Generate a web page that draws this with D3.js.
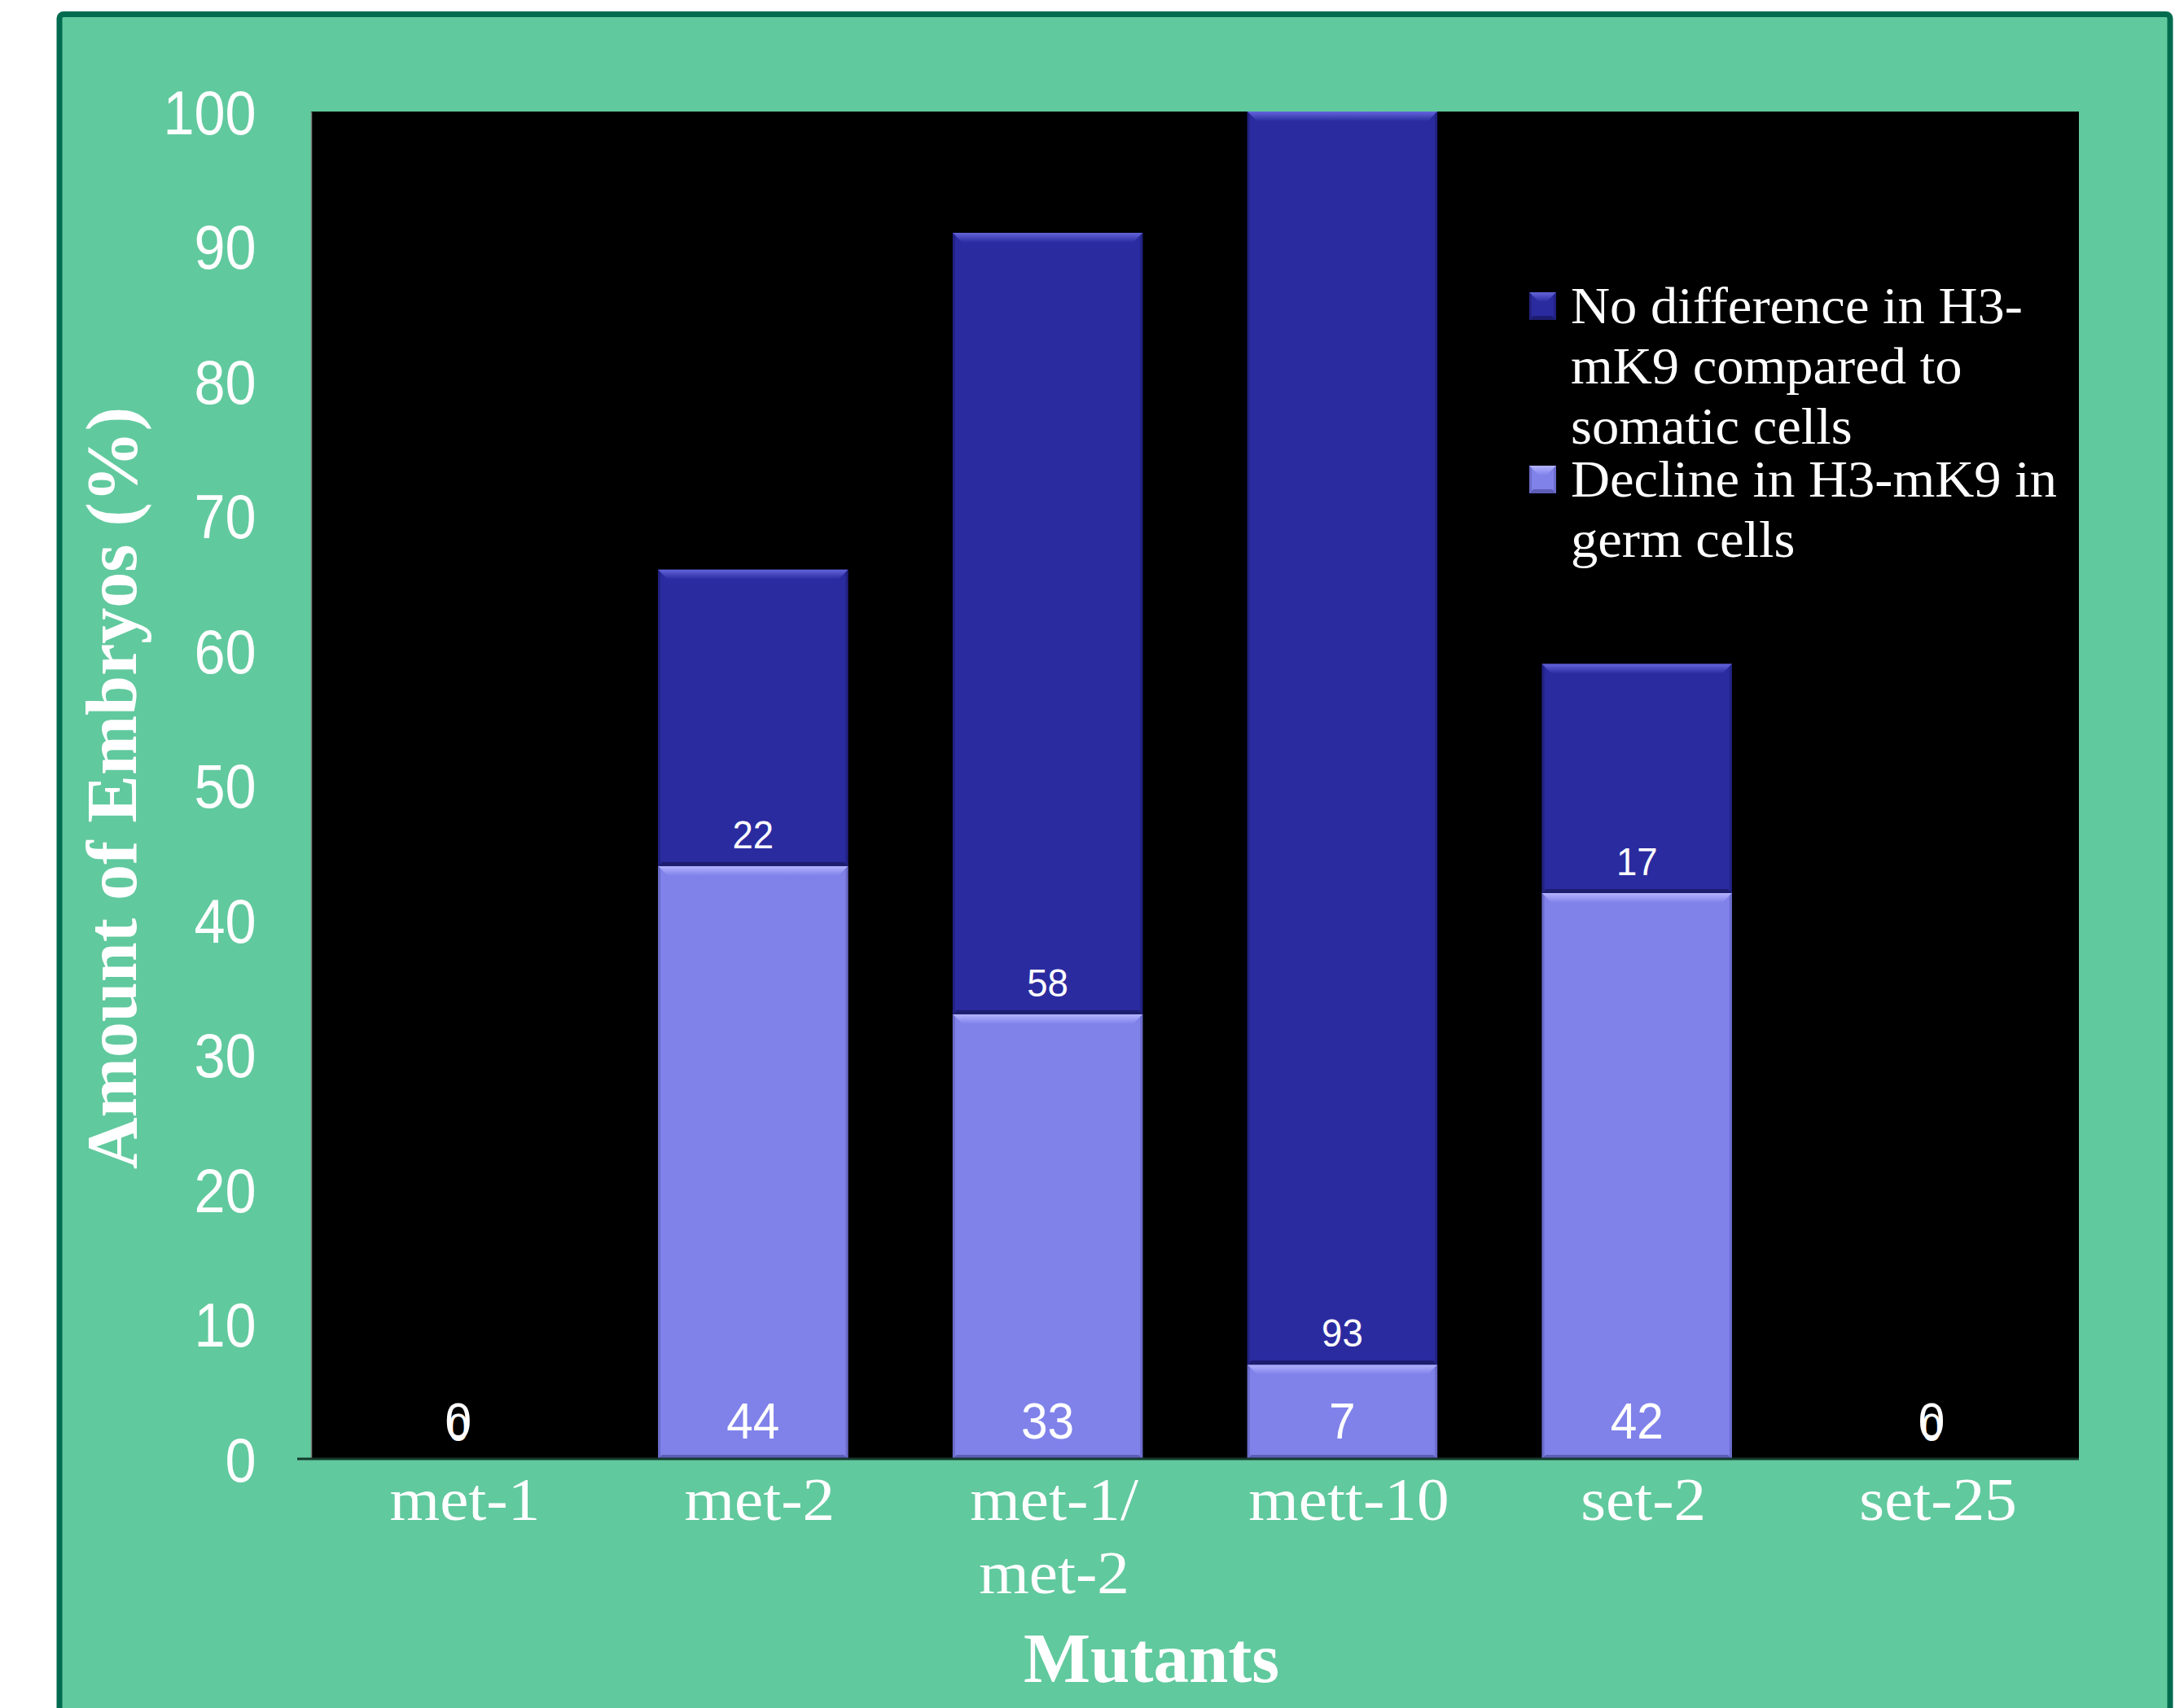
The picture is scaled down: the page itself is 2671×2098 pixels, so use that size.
<!DOCTYPE html>
<html>
<head>
<meta charset="utf-8">
<script src="https://cdn.jsdelivr.net/npm/d3@7"></script>
<style>
  body { margin: 0; background: #ffffff; }
  svg { display: block; }
</style>
</head>
<body>
<div id="chart"></div>
<script>
const categories = ["met-1", "met-2", "met-1/met-2", "mett-10", "set-2", "set-25"];
const declineValues = [0, 44, 33, 7, 42, 0];
const noDiffValues = [0, 22, 58, 93, 17, 0];
const yTickValues = [0, 10, 20, 30, 40, 50, 60, 70, 80, 90, 100];
const seriesKeys = ["decline", "noDiff"];
const legendKeys = ["noDiff", "decline"];
const legendLines = [
    ["No difference in H3-", "mK9 compared to", "somatic cells"],
    ["Decline in H3-mK9 in", "germ cells"]
];
const axisTitleY = "Amount of Embryos (%)";
const axisTitleX = "Mutants";

const colors = { noDiff: "#2b2ba0", decline: "#8082ea" };
const bevelTop = { noDiff: "#6464dc", decline: "#b4b4ff" };
const bevelBottom = { noDiff: "#1d1d70", decline: "#5d5db8" };

const W = 2671, H = 2098;
const plot = { left: 382, right: 2553, top: 137, bottom: 1792 };

let svg = d3.select("#chart")
    .append("svg")
    .attr("width", W)
    .attr("height", H);

// outer green frame
svg.append("rect")
    .attr("x", 73)
    .attr("y", 17.5)
    .attr("width", 2592)
    .attr("height", 2200)
    .attr("rx", 5)
    .attr("fill", "#61c99e")
    .attr("stroke", "#006b4f")
    .attr("stroke-width", 7);

svg.append("rect")
    .attr("x", plot.left)
    .attr("y", plot.top)
    .attr("width", plot.right - plot.left)
    .attr("height", plot.bottom - plot.top)
    .attr("fill", "#000000");

let x = d3.scaleBand()
    .domain(categories)
    .range([plot.left, plot.right])
    .paddingInner(0.355)
    .paddingOuter(0.1775);

let y = d3.scaleLinear()
    .domain([0, 100])
    .range([plot.bottom, plot.top]);

let table = categories.map(function(c, i) {
    return { cat: c, decline: declineValues[i], noDiff: noDiffValues[i] };
});

let stacked = d3.stack().keys(seriesKeys)(table);

function bevelSegment(g, x0, x1, y0, y1, key) {
    let h = y1 - y0;
    g.append("rect")
        .attr("x", x0).attr("y", y0)
        .attr("width", x1 - x0).attr("height", h)
        .attr("fill", colors[key]);
    if (h <= 0) return;
    let b = Math.min(12, h / 2);
    let s = Math.min(5, h / 4);
    g.append("polygon")
        .attr("points", [[x0, y0], [x1, y0], [x1 - b, y0 + b], [x0 + b, y0 + b]].join(" "))
        .attr("fill", "url(#top-" + key + ")");
    g.append("polygon")
        .attr("points", [[x0, y1], [x1, y1], [x1 - s, y1 - s], [x0 + s, y1 - s]].join(" "))
        .attr("fill", bevelBottom[key]);
    g.append("polygon")
        .attr("points", [[x0, y0], [x0 + 3, y0 + 3], [x0 + 3, y1 - 3], [x0, y1]].join(" "))
        .attr("fill", bevelBottom[key])
        .attr("opacity", 0.6);
    g.append("polygon")
        .attr("points", [[x1, y0], [x1 - 3, y0 + 3], [x1 - 3, y1 - 3], [x1, y1]].join(" "))
        .attr("fill", bevelBottom[key])
        .attr("opacity", 0.6);
}

let defs = svg.append("defs");
seriesKeys.forEach(function(k) {
    let grad = defs.append("linearGradient")
        .attr("id", "top-" + k)
        .attr("x1", 0).attr("y1", 0).attr("x2", 0).attr("y2", 1);
    grad.append("stop").attr("offset", "0%").attr("stop-color", bevelTop[k]);
    grad.append("stop").attr("offset", "100%").attr("stop-color", colors[k]);
});

let bars = svg.append("g").attr("class", "bars");
stacked.forEach(function(layer) {
    layer.forEach(function(d) {
        let x0 = x(d.data.cat), x1 = x0 + x.bandwidth();
        bevelSegment(bars, x0, x1, y(d[1]), y(d[0]), layer.key);
    });
});

// data labels (the zero labels overlap, as in the original)
let labels = svg.append("g")
    .attr("font-family", "'Liberation Sans', Arial, sans-serif")
    .attr("fill", "#ffffff")
    .attr("text-anchor", "middle");

stacked.forEach(function(layer) {
    let big = layer.key === "decline";
    layer.forEach(function(d) {
        let cx = x(d.data.cat) + x.bandwidth() / 2;
        let by = y(d[0]) - (big ? 25 : 22);
        labels.append("text")
            .attr("transform", "translate(" + cx + "," + by + ") scale(0.93,1)")
            .attr("font-size", big ? 63 : 49)
            .text(d[1] - d[0]);
    });
});

// y axis
let yAxis = svg.append("g")
    .attr("transform", "translate(" + plot.left + ",0)")
    .call(d3.axisLeft(y).tickValues(yTickValues).tickSize(0).tickSizeOuter(0).tickPadding(75));

yAxis.select(".domain")
    .attr("stroke", "#7f7f7f")
    .attr("stroke-width", 1.5);

yAxis.selectAll("text")
    .attr("font-family", "'Liberation Sans', Arial, sans-serif")
    .attr("font-size", 76)
    .attr("fill", "#ffffff")
    .attr("dy", "0.36em")
    .attr("transform", "scale(0.9,1)");

// x axis
let xAxis = svg.append("g")
    .attr("transform", "translate(0," + plot.bottom + ")")
    .call(d3.axisBottom(x).tickSize(0).tickFormat(""));

xAxis.select(".domain").remove();

xAxis.append("line")
    .attr("x1", plot.left - 17)
    .attr("x2", plot.right)
    .attr("y1", 0)
    .attr("y2", 0)
    .attr("stroke", "#143a2c")
    .attr("stroke-width", 3);

xAxis.selectAll(".tick").each(function(d) {
    let parts = d.indexOf("/") >= 0 ? [d.slice(0, d.indexOf("/") + 1), d.slice(d.indexOf("/") + 1)] : [d];
    let t = d3.select(this).append("text")
        .attr("font-family", "'Liberation Serif', 'Times New Roman', serif")
        .attr("font-size", 74)
        .attr("fill", "#ffffff")
        .attr("text-anchor", "middle")
        .attr("transform", "translate(8,75) scale(1.07,1)");
    parts.forEach(function(p, i) {
        t.append("tspan").attr("x", 0).attr("y", i * 90).text(p);
    });
});

// axis titles
svg.append("text")
    .attr("transform", "translate(167,968) rotate(-90)")
    .attr("text-anchor", "middle")
    .attr("font-family", "'Liberation Serif', 'Times New Roman', serif")
    .attr("font-weight", "bold")
    .attr("font-size", 88)
    .attr("fill", "#ffffff")
    .text(axisTitleY);

svg.append("text")
    .attr("x", 1414)
    .attr("y", 2066)
    .attr("text-anchor", "middle")
    .attr("font-family", "'Liberation Serif', 'Times New Roman', serif")
    .attr("font-weight", "bold")
    .attr("font-size", 87)
    .attr("fill", "#ffffff")
    .text(axisTitleX);

// legend
let legend = svg.append("g").attr("transform", "translate(1878,397)");
legendKeys.forEach(function(k, i) {
    let g = legend.append("g").attr("transform", "translate(0," + (i * 213) + ")");
    bevelSegment(g, 0, 33, -38, -4, k);
    let t = g.append("text")
        .attr("font-family", "'Liberation Serif', 'Times New Roman', serif")
        .attr("font-size", 64)
        .attr("fill", "#ffffff")
        .attr("transform", "translate(51,0) scale(1.04,1)");
    legendLines[i].forEach(function(line, j) {
        t.append("tspan").attr("x", 0).attr("y", j * 74).text(line);
    });
});
</script>
</body>
</html>
